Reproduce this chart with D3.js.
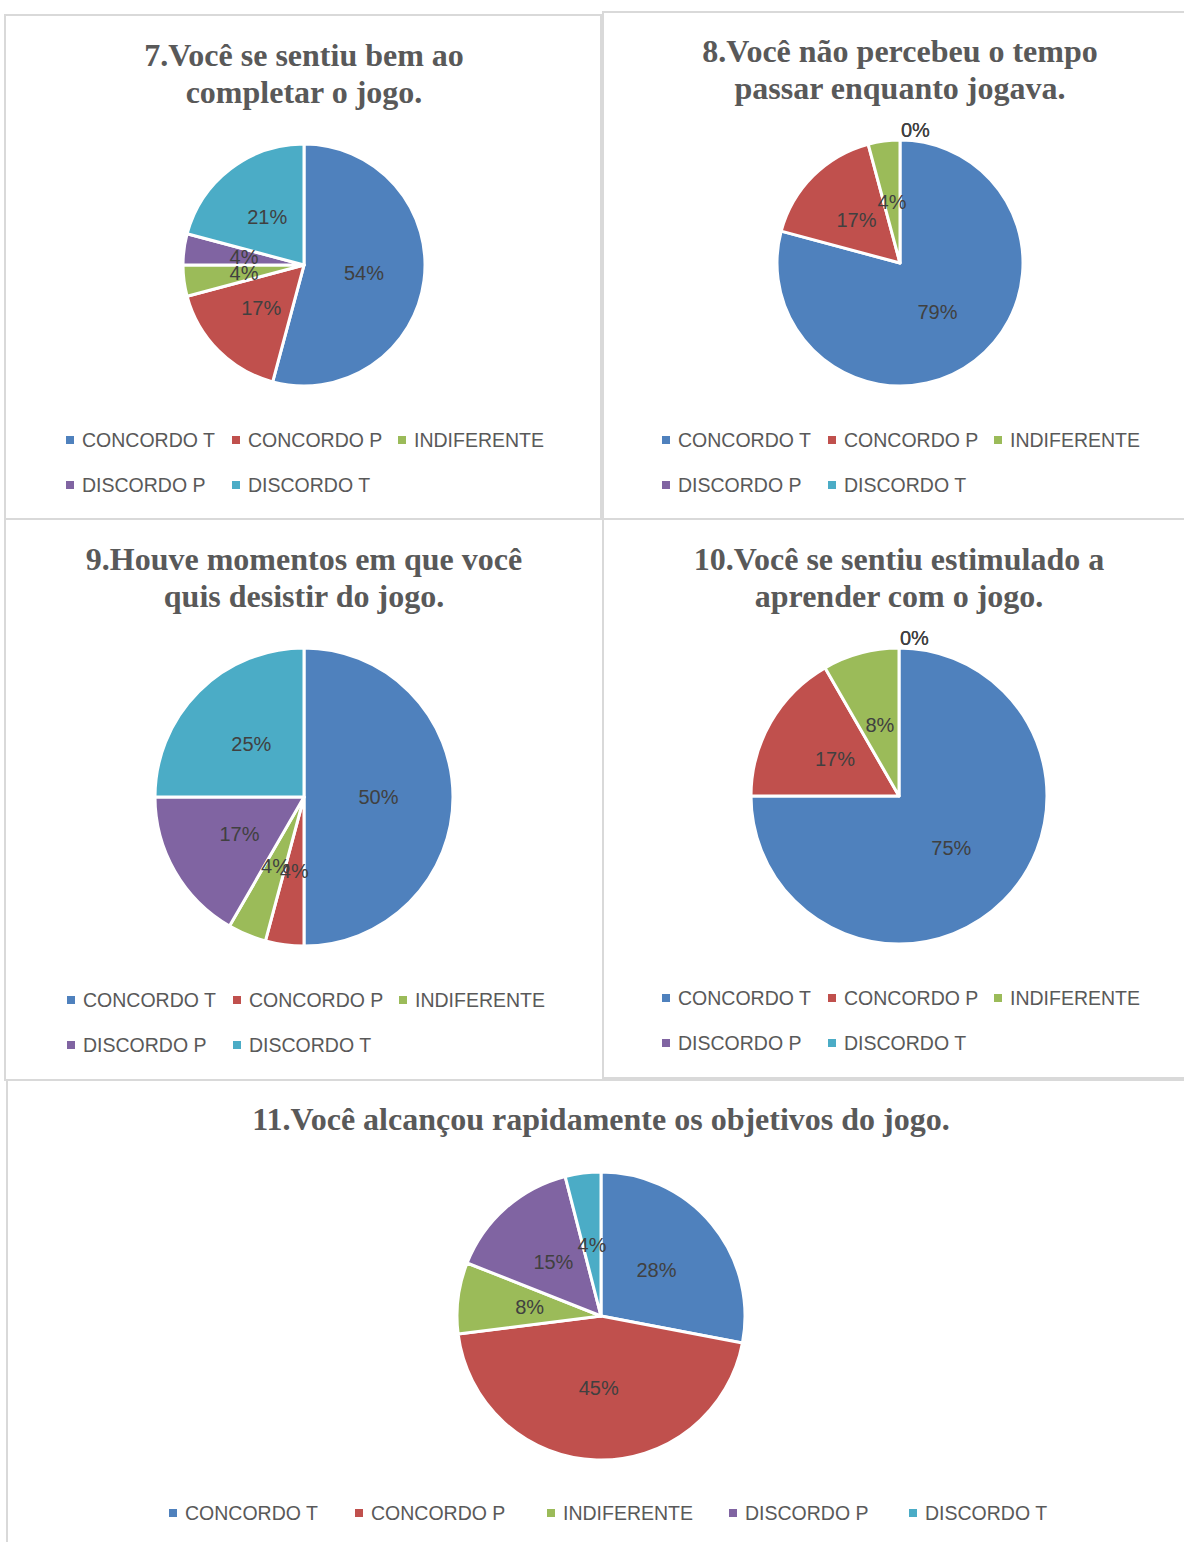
<!DOCTYPE html>
<html>
<head>
<meta charset="utf-8">
<script src="https://cdn.jsdelivr.net/npm/d3@7"></script>
<style>
  html, body { margin: 0; padding: 0; background: #fff; }
  svg { display: block; }
  .title { font-family: "Liberation Serif", "Times New Roman", serif; font-weight: bold; fill: #595959; font-size: 32px; }
  .lbl { font-family: "Liberation Sans", Arial, sans-serif; fill: #404040; font-size: 20px; }
  .leg { font-family: "Liberation Sans", Arial, sans-serif; fill: #595959; font-size: 19.5px; }
</style>
</head>
<body>
<div id="chart"></div>
<script>
// ============ 数据 ============
const categories = ['CONCORDO T', 'CONCORDO P', 'INDIFERENTE', 'DISCORDO P', 'DISCORDO T'];
const colors = ['#4F81BD', '#C0504D', '#9BBB59', '#8064A2', '#4BACC6'];

const q7 = [13, 4, 1, 1, 5];
const q8 = [19, 4, 1, 0, 0];
const q9 = [12, 1, 1, 4, 6];
const q10 = [18, 4, 2, 0, 0];
const q11 = [28, 45, 8, 15, 4];

const titles7 = ['7.Você se sentiu bem ao', 'completar o jogo.'];
const titles8 = ['8.Você não percebeu o tempo', 'passar enquanto jogava.'];
const titles9 = ['9.Houve momentos em que você', 'quis desistir do jogo.'];
const titles10 = ['10.Você se sentiu estimulado a', 'aprender com o jogo.'];
const titles11 = ['11.Você alcançou rapidamente os objetivos do jogo.'];

// ============ 布局 ============
const W = 1184, H = 1542;
const panels = [
  { values: q7, title: titles7, box: [5, 15, 596, 504], cx: 304, cy: 265, r: 121, ty: 66, lx: 66, ly: 440, cols: 3, colW: 166 },
  { values: q8, title: titles8, box: [603, 12, 600, 507], cx: 900, cy: 263, r: 123, ty: 62, lx: 662, ly: 440, cols: 3, colW: 166 },
  { values: q9, title: titles9, box: [5, 519, 598, 561], cx: 304, cy: 797, r: 149, ty: 570, lx: 67, ly: 1000, cols: 3, colW: 166 },
  { values: q10, title: titles10, box: [603, 519, 600, 559], cx: 899, cy: 796, r: 148, ty: 570, lx: 662, ly: 998, cols: 3, colW: 166 },
  { values: q11, title: titles11, box: [7, 1080, 1200, 480], cx: 601, cy: 1316, r: 144, ty: 1130, lx: 169, ly: 1513, cols: 5, colX: [0, 186, 378, 560, 740] }
];

const svg = d3.select('#chart').append('svg')
  .attr('width', W)
  .attr('height', H);

const pct = d3.format('.0%');
const pie = d3.pie().sort(null).value(d => d);

panels.forEach(p => {
  const g = svg.append('g');

  // 边框
  g.append('rect')
    .attr('x', p.box[0]).attr('y', p.box[1])
    .attr('width', p.box[2]).attr('height', p.box[3])
    .attr('fill', 'none')
    .attr('stroke', '#D9D9D9')
    .attr('stroke-width', 2);

  // 标题
  p.title.forEach((line, i) => {
    g.append('text')
      .attr('class', 'title')
      .attr('x', p.cx)
      .attr('y', p.ty + i * 37)
      .attr('text-anchor', 'middle')
      .text(line);
  });

  const total = d3.sum(p.values);
  const arcs = pie(p.values);
  const arc = d3.arc().innerRadius(0).outerRadius(p.r);

  const pg = g.append('g').attr('transform', `translate(${p.cx},${p.cy})`);

  pg.selectAll('path')
    .data(arcs.filter(d => d.value > 0))
    .join('path')
    .attr('d', arc)
    .attr('fill', d => colors[d.index])
    .attr('stroke', '#fff')
    .attr('stroke-width', 3)
    .attr('stroke-linejoin', 'round');

  // 数据标签（0% 放在饼图上方）
  pg.selectAll('text')
    .data(arcs)
    .join('text')
    .attr('class', 'lbl')
    .attr('text-anchor', d => d.value > 0 ? 'middle' : 'start')
    .attr('x', d => d.value > 0 ? arc.centroid(d)[0] : 1)
    .attr('y', d => d.value > 0 ? arc.centroid(d)[1] + 7 : -p.r - 3)
    .text(d => pct(d.value / total));

  // 图例
  const leg = g.append('g');
  categories.forEach((c, i) => {
    const col = i % p.cols, row = Math.floor(i / p.cols);
    const x = p.lx + (p.colX ? p.colX[col] : col * p.colW);
    const y = p.ly + row * 45;
    leg.append('rect')
      .attr('x', x).attr('y', y - 4)
      .attr('width', 8).attr('height', 8)
      .attr('fill', colors[i]);
    leg.append('text')
      .attr('class', 'leg')
      .attr('x', x + 16)
      .attr('y', y + 7)
      .text(c);
  });
});
</script>
</body>
</html>
